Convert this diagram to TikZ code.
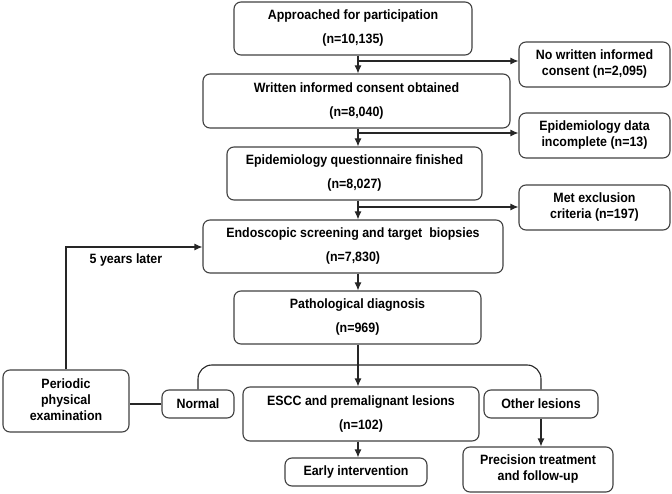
\documentclass[tikz,border=0pt]{standalone}
\usepackage{fontspec}
\setmainfont{Liberation Sans}[FakeStretch=0.92]
\usepackage{tikz}
\usetikzlibrary{arrows.meta}
\usetikzlibrary{positioning}
\tikzset{
    block/.style={
           rectangle,
           rounded corners=7pt,
           draw=black!75, line width=1.1pt,
           inner sep=0pt,
           text centered,
           font=\fontsize{13.5}{16}\selectfont\bfseries,
           },
     frameless/.style={
           inner sep=0pt,
           text centered,
           font=\fontsize{13.5}{16}\selectfont\bfseries,
           },
     flow/.style={-{Latex[length=8pt,width=7pt]}, line width=1.1pt, black!85},
     link/.style={-, line width=1.1pt, black!85},
}

\begin{document}
\begin{tikzpicture}[x=1pt, y=-1pt]
	\useasboundingbox (0,0) rectangle (672,494);
	
	% main column
	\node[block, minimum width=238pt, minimum height=53pt] (appr) at (353,28.5) {
		\begin{tabular}{c}
		Approached for participation\\[8pt]
		(n=10,135)
		\end{tabular}
	};
	\node[block, minimum width=307pt, minimum height=54pt] (consent) at (356.5,101) {
		\begin{tabular}{c}
		Written informed consent obtained\\[8pt]
		(n=8,040)
		\end{tabular}
	};
	\node[block, minimum width=255pt, minimum height=53pt] (quest) at (354.5,173.5) {
		\begin{tabular}{c}
		Epidemiology questionnaire finished\\[8pt]
		(n=8,027)
		\end{tabular}
	};
	\node[block, minimum width=300pt, minimum height=53pt] (endo) at (353,246.5) {
		\begin{tabular}{c}
		Endoscopic screening and target\ \ biopsies\\[8pt]
		(n=7,830)
		\end{tabular}
	};
	\node[block, minimum width=247pt, minimum height=53pt] (patho) at (357.5,317.5) {
		\begin{tabular}{c}
		Pathological diagnosis\\[8pt]
		(n=969)
		\end{tabular}
	};
	
	% exclusions
	\node[block, minimum width=151pt, minimum height=45pt] (nowic) at (594.5,64.5) {
		\begin{tabular}{c}
		No written informed\\
		consent (n=2,095)
		\end{tabular}
	};
	\node[block, minimum width=151pt, minimum height=45pt] (incompl) at (594.5,135.5) {
		\begin{tabular}{c}
		Epidemiology data\\
		incomplete (n=13)
		\end{tabular}
	};
	\node[block, minimum width=151pt, minimum height=45pt] (excl) at (594.5,207.5) {
		\begin{tabular}{c}
		Met exclusion\\
		criteria (n=197)
		\end{tabular}
	};
	
	% outcomes
	\node[block, minimum width=126pt, minimum height=62pt] (periodic) at (66,401) {
		\begin{tabular}{c}
		Periodic\\
		physical\\
		examination
		\end{tabular}
	};
	\node[block, minimum width=72pt, minimum height=28pt] (normal) at (198,404) {Normal};
	\node[block, minimum width=236pt, minimum height=54pt] (escc) at (361,414) {
		\begin{tabular}{c}
		ESCC and premalignant lesions\\[8pt]
		(n=102)
		\end{tabular}
	};
	\node[block, minimum width=114pt, minimum height=28pt] (other) at (541,404) {Other lesions};
	\node[block, minimum width=142pt, minimum height=28pt] (early) at (356,472) {Early intervention};
	\node[block, minimum width=150pt, minimum height=45pt] (precision) at (538,469.5) {
		\begin{tabular}{c}
		Precision treatment\\
		and follow-up
		\end{tabular}
	};
	
	\node[frameless] (later) at (126,260) {5 years later};
	
	% spine and branch points
	\coordinate (spine) at (358,0);
	\coordinate (b1) at (358,61);
	\coordinate (b2) at (358,133);
	\coordinate (b3) at (358,207);
	\coordinate (brk) at (358,365);
	\coordinate (back) at (0,247);
	
	\path[flow]	(appr.south -| spine) edge (consent.north -| spine)
				(consent.south -| spine) edge (quest.north -| spine)
				(quest.south -| spine) edge (endo.north -| spine)
				(endo.south -| spine) edge (patho.north -| spine)
				(patho.south -| spine) edge (escc.north -| spine)
				(escc.south -| spine) edge (early.north -| spine)
				(other.south) edge (other.south |- precision.north);
	
	\path[flow]	(b1) edge (b1 -| nowic.west)
				(b2) edge (b2 -| incompl.west)
				(b3) edge (b3 -| excl.west);
	
	\draw[flow] (periodic.north) |- (back -| endo.west);
	\draw[link] (normal.west) -- (normal.west -| periodic.east);
	\draw[link, rounded corners=14pt] (normal.north) |- (brk) -| (other.north);

\end{tikzpicture}
\end{document}
